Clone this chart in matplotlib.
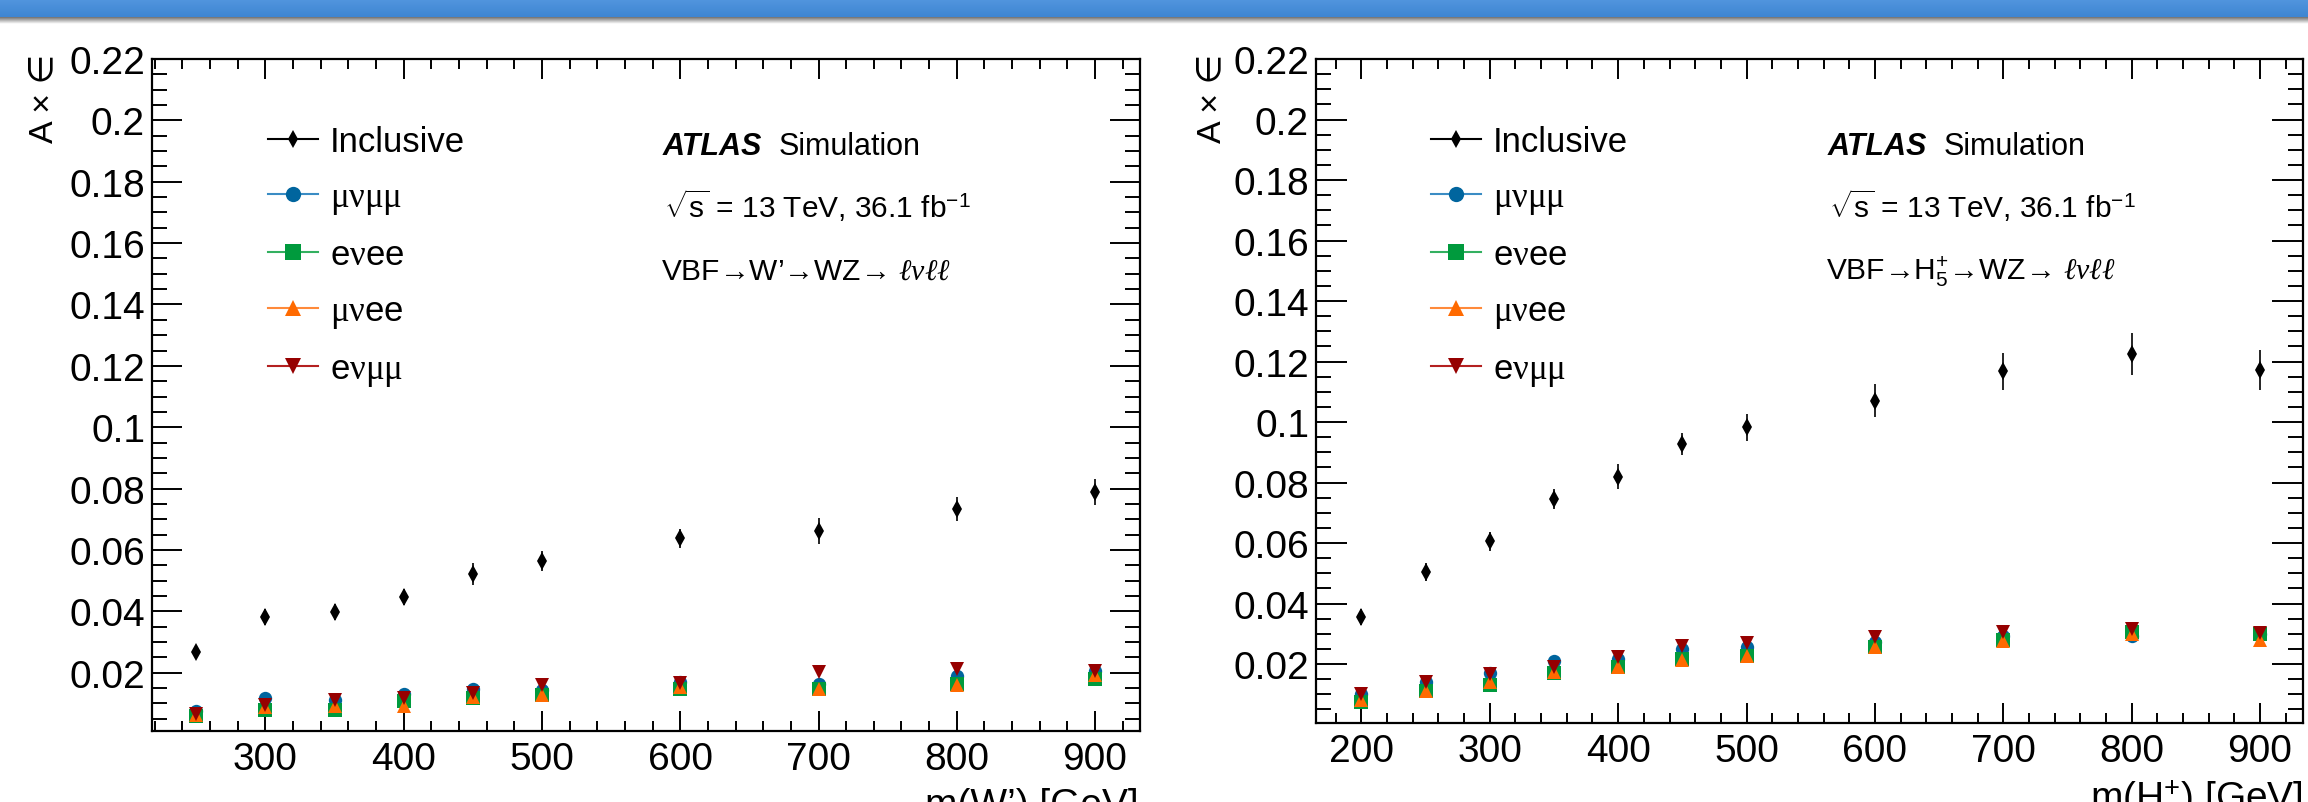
import matplotlib
matplotlib.use('Agg')
import matplotlib.pyplot as plt
import numpy as np
from matplotlib.ticker import MultipleLocator, FuncFormatter
from matplotlib.lines import Line2D

plt.rcParams['font.family'] = ['Liberation Sans', 'DejaVu Sans']
plt.rcParams['mathtext.fontset'] = 'custom'
plt.rcParams['mathtext.rm'] = 'Liberation Sans'
plt.rcParams['mathtext.it'] = 'Liberation Serif:italic'
plt.rcParams['mathtext.sf'] = 'Liberation Serif'
plt.rcParams['mathtext.bf'] = 'Liberation Sans:bold'

# ---------------- data ----------------
channel_labels = [r'$\mathsf{\mu\nu\mu\mu}$', r'e$\mathsf{\nu}$ee',
                  r'$\mathsf{\mu\nu}$ee', r'e$\mathsf{\nu\mu\mu}$']
incl_label = 'Inclusive'

wprime_mass = [250, 300, 350, 400, 450, 500, 600, 700, 800, 900]
wprime_incl = [0.0268, 0.0382, 0.0398, 0.0447, 0.0523, 0.0564, 0.0638, 0.0663, 0.0734, 0.0788]
wprime_incl_err = [0.0008, 0.0027, 0.0025, 0.0027, 0.0036, 0.0034, 0.0030, 0.0042, 0.0038, 0.0043]
wprime_munumumu = [0.0074, 0.0118, 0.0112, 0.0129, 0.0148, 0.0142, 0.0170, 0.0163, 0.0188, 0.0207]
wprime_enuee = [0.0059, 0.0079, 0.0077, 0.0109, 0.0118, 0.0128, 0.0146, 0.0146, 0.0164, 0.0180]
wprime_munuee = [0.0063, 0.0088, 0.0093, 0.0091, 0.0121, 0.0128, 0.0153, 0.0148, 0.0159, 0.0193]
wprime_enumumu = [0.0066, 0.0096, 0.0110, 0.0118, 0.0134, 0.0161, 0.0166, 0.0202, 0.0213, 0.0206]

h5_mass = [200, 250, 300, 350, 400, 450, 500, 600, 700, 800, 900]
h5_incl = [0.0356, 0.0503, 0.0605, 0.0747, 0.0819, 0.0927, 0.0982, 0.1071, 0.1167, 0.1225, 0.1172]
h5_incl_err = [0.0026, 0.0030, 0.0033, 0.0033, 0.0042, 0.0037, 0.0046, 0.0054, 0.0061, 0.0068, 0.0066]
h5_munumumu = [0.0101, 0.0141, 0.0169, 0.0211, 0.0216, 0.0250, 0.0257, 0.0272, 0.0293, 0.0293, 0.0300]
h5_enuee = [0.0073, 0.0112, 0.0131, 0.0169, 0.0191, 0.0216, 0.0227, 0.0257, 0.0279, 0.0307, 0.0298]
h5_munuee = [0.0082, 0.0110, 0.0140, 0.0173, 0.0189, 0.0213, 0.0227, 0.0255, 0.0277, 0.0299, 0.0279]
h5_enumumu = [0.0100, 0.0140, 0.0166, 0.0191, 0.0222, 0.0259, 0.0269, 0.0290, 0.0307, 0.0315, 0.0304]

# ---------------- style ----------------
W, H = 2308, 803
marker_colors = ['#00659e', '#009a3d', '#ff6a00', '#960000']
line_colors = ['#3a8cc4', '#33b060', '#ff8a3a', '#b42020']
markers = ['o', 's', '^', 'v']

fig = plt.figure(figsize=(W / 100, H / 100), dpi=100)

# slide banner
bax = fig.add_axes([0, 1 - 18 / H, 1, 18 / H])
grad = np.linspace(0, 1, 32)[:, None, None]
top_c = np.array([82, 150, 222]) / 255
bot_c = np.array([62, 133, 210]) / 255
bax.imshow(top_c * (1 - grad) + bot_c * grad, aspect='auto', extent=[0, 1, 0, 1])
bax.axis('off')
sax = fig.add_axes([0, 1 - 25 / H, 1, 7 / H])
g2 = np.linspace(0, 1, 16)[:, None, None]
sh = np.array([0.45, 0.45, 0.45]) * (1 - g2) + np.array([1, 1, 1]) * g2
sax.imshow(np.repeat(sh, 2, axis=1), aspect='auto', extent=[0, 1, 0, 1])
sax.axis('off')


def make_panel(rect, xlim, ylim, mass, incl, incl_err, chans, ytick_len, text_x, proc_text,
               xlabel, xlabel_right, xlabel_top, ylabel_x, legend_x):
    ax = fig.add_axes(rect)
    ax.errorbar(mass, incl, yerr=incl_err, fmt='d', color='black', ms=8.8, mew=0,
                elinewidth=1.2, capsize=4.0, capthick=1.2, zorder=3)
    for vals, mc, mk in zip(chans, marker_colors, markers):
        ax.plot(mass, vals, ls='none', marker=mk, ms=9.6, color=mc, mew=0, zorder=4)
    ax.set_xlim(*xlim)
    ax.set_ylim(*ylim)
    ax.xaxis.set_major_locator(MultipleLocator(100))
    ax.xaxis.set_minor_locator(MultipleLocator(20))
    ax.yaxis.set_major_locator(MultipleLocator(0.02))
    ax.yaxis.set_minor_locator(MultipleLocator(0.005))
    ax.xaxis.set_major_formatter(FuncFormatter(lambda v, p: f'{v:.0f}'))
    ax.yaxis.set_major_formatter(FuncFormatter(lambda v, p: f'{v:g}'))
    for s in ax.spines.values():
        s.set_linewidth(1.6)
    ax.tick_params(which='both', direction='in', top=True, right=True, width=1.4,
                   labelsize=28, colors='black')
    ax.tick_params(axis='x', which='major', length=14.4, pad=7)
    ax.tick_params(axis='x', which='minor', length=7.2)
    ax.tick_params(axis='y', which='major', length=ytick_len, pad=5)
    ax.tick_params(axis='y', which='minor', length=ytick_len / 2)

    handles = [Line2D([], [], color='black', lw=1.5, marker='d', ms=8.8, mew=0)]
    for lc, mc, mk in zip(line_colors, marker_colors, markers):
        handles.append(Line2D([], [], color=lc, lw=1.5, marker=mk, ms=11, mew=0,
                              markerfacecolor=mc))
    ax.legend(handles, [incl_label] + channel_labels, loc='upper left',
              bbox_to_anchor=(legend_x, 1 - 66 / (rect[3] * H)), frameon=False,
              borderpad=0, borderaxespad=0, handlelength=1.44, handletextpad=0.35,
              labelspacing=0.64, fontsize=25, numpoints=1)

    r = fig.canvas.get_renderer()
    t = fig.text(text_x / W, 1 - 155 / H, 'ATLAS', fontsize=22, fontweight='bold',
                 fontstyle='italic', va='baseline')
    bb = t.get_window_extent(renderer=r)
    fig.text((bb.x1 + 16) / W, 1 - 155 / H, 'Simulation', fontsize=22, va='baseline')
    fig.text((text_x + 1) / W, 1 - 218 / H, r'$\sqrt{\mathrm{s}}$ = 13 TeV, 36.1 fb$^{\mathrm{-1}}$',
             fontsize=21.5, va='baseline')
    fig.text((text_x - 2) / W, 1 - 280 / H, proc_text, fontsize=21.5, va='baseline')

    fig.text(xlabel_right / W, 1 - xlabel_top / H, xlabel, fontsize=28, ha='right', va='top')
    fig.text(ylabel_x / W, 1 - 54 / H, 'A × ∈', fontsize=24.5, rotation=90, ha='center', va='top')
    return ax


make_panel([152 / W, 1 - 732 / H, (1140 - 152) / W, (732 - 60) / H],
           (218, 932.5), (0.001, 0.22), wprime_mass, wprime_incl, wprime_incl_err,
           [wprime_munumumu, wprime_enuee, wprime_munuee, wprime_enumumu], 21.6, 663,
           'VBF→W’→WZ→ $\\ell\\nu\\ell\\ell$', 'm(W’) [GeV]', 1139, 788, 44, 0.1174)

make_panel([1316 / W, 1 - 724 / H, (2303 - 1316) / W, (724 - 60) / H],
           (164.6, 933.5), (0.0005, 0.22), h5_mass, h5_incl, h5_incl_err,
           [h5_munumumu, h5_enuee, h5_munuee, h5_enumumu], 22.3, 1828,
           'VBF→$\\mathrm{H}_{5}^{+}$→WZ→ $\\ell\\nu\\ell\\ell$', 'm(H$^{+}$) [GeV]', 2303, 778,
           1212, 0.1165)

fig.savefig('out.png', dpi=100)
